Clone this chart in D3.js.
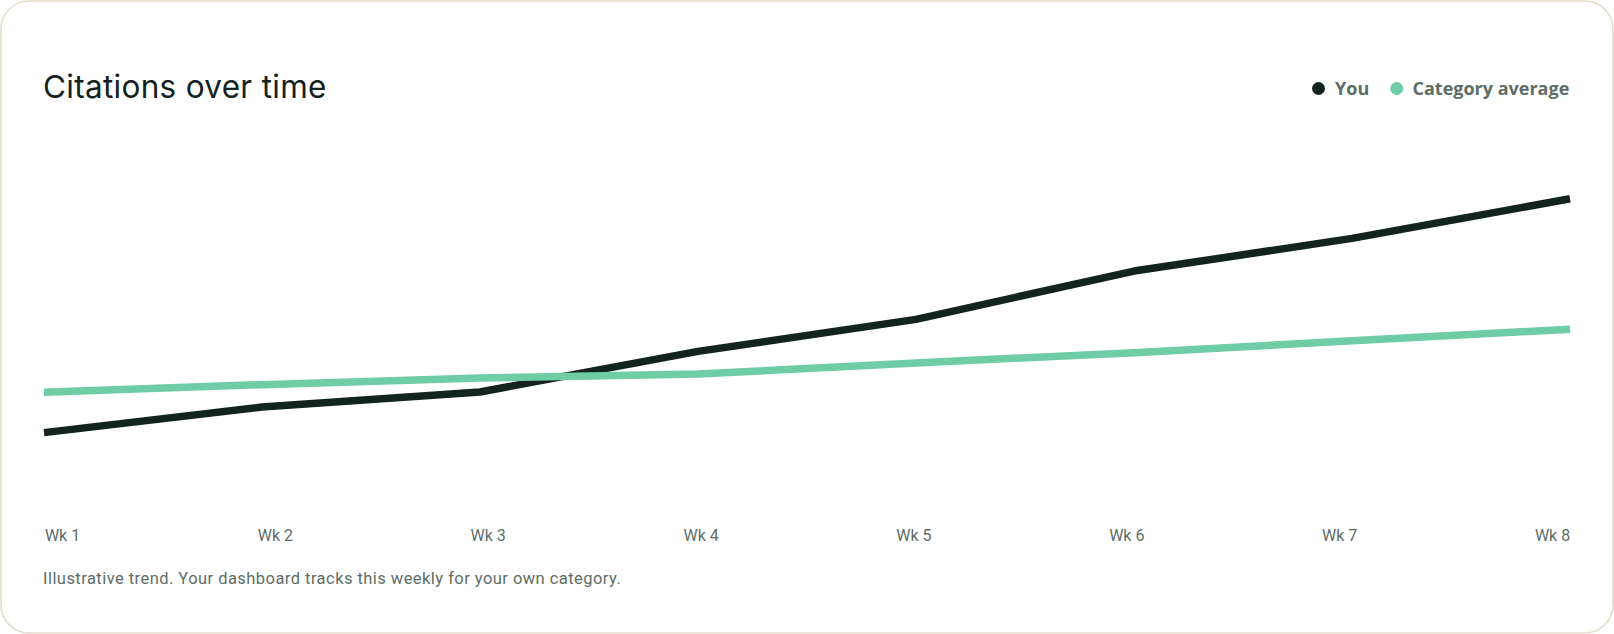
<!DOCTYPE html>
<html>
<head>
<meta charset="utf-8">
<script src="https://cdn.jsdelivr.net/npm/d3@7"></script>
<style>
  html, body { margin: 0; padding: 0; background: #ffffff; }
  svg { display: block; }
</style>
</head>
<body>
<svg id="chart" width="1614" height="634"></svg>
<script>
// ---- data ----
const weeks = ["Wk 1", "Wk 2", "Wk 3", "Wk 4", "Wk 5", "Wk 6", "Wk 7", "Wk 8"];
const youValues = [14.8, 22.8, 27.5, 40.2, 50.2, 65.3, 75.5, 87.9];
const categoryValues = [27.4, 29.8, 31.9, 33.1, 36.6, 39.8, 43.5, 47.1];
const seriesNames = ["You", "Category average"];
const title = "Citations over time";
const footnote = "Illustrative trend. Your dashboard tracks this weekly for your own category.";

// ---- styles ----
const W = 1614, H = 634;
const colYou = "#13241f";
const colCat = "#6ecca6";
const textMuted = "#5d6d66";

const svg = d3.select("#chart");

// card
svg.append("rect")
  .attr("x", 1).attr("y", 1).attr("width", W - 2).attr("height", H - 2)
  .attr("rx", 28).attr("ry", 28)
  .attr("fill", "#ffffff").attr("stroke", "#e4ddcc").attr("stroke-width", 1.6);

// title
svg.append("text")
  .attr("x", 43).attr("y", 98)
  .attr("font-family", "Inter, sans-serif")
  .attr("font-size", 31.5)
  .attr("font-weight", 400)
  .attr("letter-spacing", 0.3)
  .attr("fill", "#13221d")
  .text(title);

// scales
const x = d3.scalePoint().domain(weeks).range([44, 1570]);
const y = d3.scaleLinear().domain([0, 100]).range([480, 160]);

const line = d3.line()
  .x((d, i) => x(weeks[i]))
  .y(d => y(d))
  .curve(d3.curveLinear);

svg.append("path")
  .datum(youValues)
  .attr("d", line)
  .attr("fill", "none")
  .attr("stroke", colYou)
  .attr("stroke-width", 7.5)
  .attr("stroke-linejoin", "round");

svg.append("path")
  .datum(categoryValues)
  .attr("d", line)
  .attr("fill", "none")
  .attr("stroke", colCat)
  .attr("stroke-width", 7.5)
  .attr("stroke-linejoin", "round");

// x labels (evenly spread across width like space-between)
const labelScale = d3.scalePoint().domain(weeks).range([62, 1552]);
const xAxis = d3.axisBottom(labelScale).tickSize(0).tickPadding(0);
const gx = svg.append("g").attr("transform", "translate(0,530)").call(xAxis);
gx.select(".domain").remove();
gx.selectAll("text")
  .attr("dy", "0.71em")
  .attr("font-family", "Roboto, sans-serif")
  .attr("font-size", 16)
  .attr("fill", textMuted);

// legend
const legendData = [
  { name: seriesNames[0], color: colYou, cx: 1318.5, tx: 1335 },
  { name: seriesNames[1], color: colCat, cx: 1396.7, tx: 1412.5 }
];
const lg = svg.append("g");
legendData.forEach(d => {
  lg.append("circle").attr("cx", d.cx).attr("cy", 88.5).attr("r", 6.5).attr("fill", d.color);
  lg.append("text")
    .attr("x", d.tx).attr("y", 94.5)
    .attr("font-family", "'Open Sans', sans-serif")
    .attr("font-weight", 700)
    .attr("font-size", 18)
    .attr("fill", textMuted)
    .text(d.name);
});

// footnote
svg.append("text")
  .attr("x", 43).attr("y", 584)
  .attr("font-family", "Roboto, sans-serif")
  .attr("font-size", 16.5)
  .attr("letter-spacing", 0.45)
  .attr("fill", textMuted)
  .text(footnote);
</script>
</body>
</html>
